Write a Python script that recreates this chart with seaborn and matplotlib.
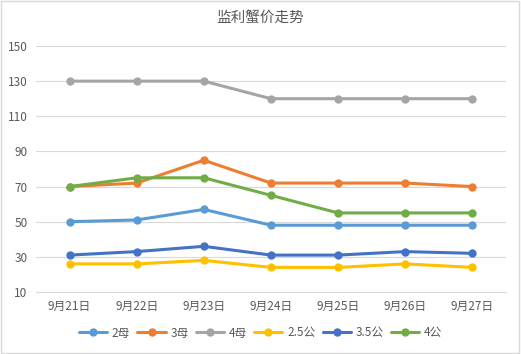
import matplotlib
matplotlib.use("Agg")
import matplotlib.pyplot as plt
import seaborn as sns
import pandas as pd
from matplotlib.ticker import FixedLocator

dates = ["9月21日", "9月22日", "9月23日", "9月24日", "9月25日", "9月26日", "9月27日"]
s_2mu = [50, 51, 57, 48, 48, 48, 48]
s_3mu = [70, 72, 85, 72, 72, 72, 70]
s_4mu = [130, 130, 130, 120, 120, 120, 120]
s_25gong = [26, 26, 28, 24, 24, 26, 24]
s_35gong = [31, 33, 36, 31, 31, 33, 32]
s_4gong = [70, 75, 75, 65, 55, 55, 55]
series_names = ["2母", "3母", "4母", "2.5公", "3.5公", "4公"]
colors = ["#5B9BD5", "#ED7D31", "#A5A5A5", "#FFC000", "#4472C4", "#70AD47"]
yticks = [10, 30, 50, 70, 90, 110, 130, 150]

sns.set_theme(style="white")
plt.rcParams['font.family'] = ['Noto Sans CJK SC', 'DejaVu Sans']

rows = []
for name, vals in zip(series_names, [s_2mu, s_3mu, s_4mu, s_25gong, s_35gong, s_4gong]):
    for i, v in enumerate(vals):
        rows.append({"idx": i, "value": v, "series": name})
df = pd.DataFrame(rows)

fig = plt.figure(figsize=(5.21, 3.54), dpi=100)
fig.patch.set_facecolor("white")
ax = fig.add_axes([36/521, 1 - 292/354, 470/521, 246/354])

sns.lineplot(data=df, x="idx", y="value", hue="series", hue_order=series_names,
             palette=colors, marker="o", markersize=6, markeredgewidth=0,
             linewidth=2.2, ax=ax, legend=True)

ax.set_xlim(-0.5, 6.5)
ax.set_ylim(10, 150)
ax.set_yticks(yticks)
ax.set_xticks(range(len(dates)))
ax.set_xticklabels(dates)
ax.xaxis.set_minor_locator(FixedLocator([i - 0.5 for i in range(len(dates) + 1)]))
ax.tick_params(axis="x", which="major", length=0, pad=6, labelsize=8.5, labelcolor="#595959")
ax.tick_params(axis="x", which="minor", length=5, color="#D9D9D9", width=0.8, direction="out")
ax.tick_params(axis="y", length=0, labelsize=8.5, labelcolor="#595959", pad=6)
ax.set_xlabel("")
ax.set_ylabel("")
ax.grid(axis="y", color="#D9D9D9", linewidth=0.8)
ax.set_axisbelow(True)
for sp in ["top", "right", "left"]:
    ax.spines[sp].set_visible(False)
ax.spines["bottom"].set_color("#D9D9D9")
ax.spines["bottom"].set_linewidth(0.8)

ax.get_legend().remove()
handles, labels = ax.get_legend_handles_labels()
fig.legend(handles, labels, loc="center", bbox_to_anchor=(0.5, 1 - 333/354), ncol=6,
           frameon=False, fontsize=8.5, handlelength=2.4, columnspacing=0.6,
           handletextpad=0.4, labelcolor="#595959")

fig.text(0.5, 1 - 19/354, "监利蟹价走势", ha="center", va="center", fontsize=10.5, color="#595959")

border = plt.Rectangle((0.002, 0.003), 0.995, 0.994, transform=fig.transFigure,
                       fill=False, edgecolor="#D9D9D9", linewidth=1)
fig.patches.append(border)

fig.savefig("out.png", dpi=100)
